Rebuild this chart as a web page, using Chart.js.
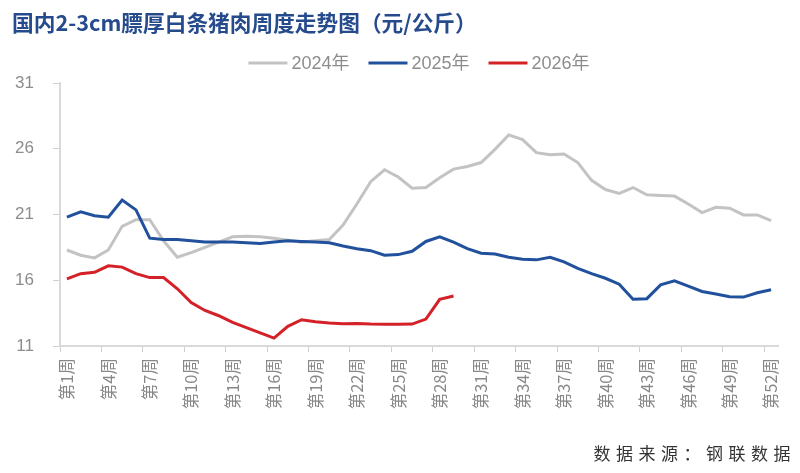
<!DOCTYPE html>
<html>
<head>
<meta charset="utf-8">
<script src="https://cdn.jsdelivr.net/npm/chart.js@4/dist/chart.umd.min.js"></script>
<style>
html,body{margin:0;padding:0;background:#fff;}
#wrap{position:relative;width:800px;height:473px;overflow:hidden;background:#fff;}
#title{position:absolute;left:12px;top:7px;font-family:"Noto Sans CJK SC",sans-serif;font-weight:bold;font-size:21.7px;line-height:30px;color:#264b8c;white-space:nowrap;}
#source{position:absolute;right:4px;top:440px;font-family:"Noto Sans CJK SC",sans-serif;font-size:17px;line-height:26px;color:#333;letter-spacing:5.5px;white-space:nowrap;}
canvas{position:absolute;left:0;top:0;}
</style>
</head>
<body>
<div id="wrap">
<canvas id="c" width="800" height="473"></canvas>
<div id="title">国内2-3cm膘厚白条猪肉周度走势图（元/公斤）</div>
<div id="source">数据来源：钢联数据</div>
</div>
<script>
const weeks = ['第1周','第2周','第3周','第4周','第5周','第6周','第7周','第8周','第9周','第10周',
  '第11周','第12周','第13周','第14周','第15周','第16周','第17周','第18周','第19周','第20周',
  '第21周','第22周','第23周','第24周','第25周','第26周','第27周','第28周','第29周','第30周',
  '第31周','第32周','第33周','第34周','第35周','第36周','第37周','第38周','第39周','第40周',
  '第41周','第42周','第43周','第44周','第45周','第46周','第47周','第48周','第49周','第50周',
  '第51周','第52周'];

const price2024 = [18.3,17.9,17.7,18.3,20.1,20.6,20.6,19.0,17.75,18.1,
  18.5,18.9,19.3,19.35,19.3,19.2,19.05,18.9,19.0,19.1,
  20.2,21.8,23.5,24.4,23.85,23.0,23.05,23.8,24.45,24.65,
  24.95,25.95,27.05,26.7,25.7,25.55,25.6,24.95,23.6,22.9,
  22.6,23.05,22.5,22.45,22.4,21.8,21.15,21.55,21.48,20.97,
  20.97,20.54];

const price2025 = [20.8,21.2,20.9,20.8,22.1,21.35,19.2,19.1,19.1,19.0,
  18.9,18.9,18.9,18.85,18.8,18.9,19.0,18.95,18.9,18.85,
  18.6,18.4,18.25,17.9,17.95,18.2,18.95,19.3,18.9,18.4,
  18.05,18.0,17.75,17.6,17.55,17.75,17.4,16.9,16.5,16.15,
  15.7,14.55,14.6,15.65,15.95,15.55,15.15,14.95,14.75,14.72,
  15.05,15.28];

const price2026 = [16.1,16.5,16.6,17.1,17.0,16.5,16.2,16.2,15.35,14.3,
  13.7,13.3,12.8,12.4,12.0,11.6,12.5,13.0,12.85,12.75,
  12.7,12.72,12.67,12.65,12.65,12.67,13.05,14.55,14.8];

const seriesNames = ['2024年','2025年','2026年'];
const seriesColors = ['#c3c3c3','#21509c','#d42027'];

const lineLegend = {
  id: 'lineLegend',
  afterDraw(chart) {
    const c = chart.ctx;
    const area = chart.chartArea;
    c.save();
    c.font = '18px "Liberation Sans", "Noto Sans CJK SC", sans-serif';
    c.textBaseline = 'middle';
    const lineLen = 39, gap = 4, spacing = 19;
    const items = chart.data.datasets.map(ds => ({
      label: ds.label, color: ds.borderColor, w: lineLen + gap + c.measureText(ds.label).width
    }));
    const total = items.reduce((s, it) => s + it.w, 0) + spacing * (items.length - 1);
    let x = (area.left + area.right) / 2 - total / 2;
    const y = 63;
    items.forEach(it => {
      c.strokeStyle = it.color;
      c.lineWidth = 3;
      c.beginPath();
      c.moveTo(x, y);
      c.lineTo(x + lineLen, y);
      c.stroke();
      c.fillStyle = '#8c8c8c';
      c.fillText(it.label, x + lineLen + gap, y + 1);
      x += it.w + spacing;
    });
    c.restore();
  }
};

const ds = (i, data, order) => ({
  label: seriesNames[i], data: data,
  borderColor: seriesColors[i], backgroundColor: seriesColors[i],
  borderWidth: 3, pointRadius: 0, tension: 0, order: order, fill: false
});

new Chart(document.getElementById('c'), {
  type: 'line',
  data: {
    labels: weeks,
    datasets: [ds(0, price2024, 3), ds(1, price2025, 2), ds(2, price2026, 1)]
  },
  options: {
    responsive: false,
    animation: false,
    layout: { padding: { top: 83, right: 22, bottom: 0, left: 0 } },
    plugins: { legend: { display: false }, tooltip: { enabled: false }, title: { display: false } },
    scales: {
      x: {
        offset: true,
        grid: {
          offset: true, drawOnChartArea: false, drawTicks: true, tickLength: 6, lineWidth: 1,
          tickColor: (ctx) => (ctx.index % 3 === 0 ? '#cfcfcf' : 'rgba(0,0,0,0)')
        },
        border: { color: '#d9d9d9', width: 2 },
        ticks: {
          autoSkip: false, maxRotation: 90, minRotation: 90, padding: 6,
          color: '#888888',
          font: { family: '"Noto Sans CJK SC", sans-serif', size: 16.5 },
          callback: function (v, i) { return i % 3 === 0 ? this.getLabelForValue(v) : ''; }
        },
        afterFit: (s) => { s.height = 127; }
      },
      y: {
        min: 11, max: 31,
        ticks: {
          stepSize: 5, padding: 19, color: '#8c8c8c',
          font: { family: '"Liberation Sans", sans-serif', size: 17 }
        },
        grid: { drawOnChartArea: false, drawTicks: true, tickLength: 7, tickColor: '#cfcfcf' },
        border: { color: '#d9d9d9', width: 2 },
        afterFit: (s) => { s.width = 60; }
      }
    }
  },
  plugins: [lineLegend]
});
</script>
</body>
</html>
